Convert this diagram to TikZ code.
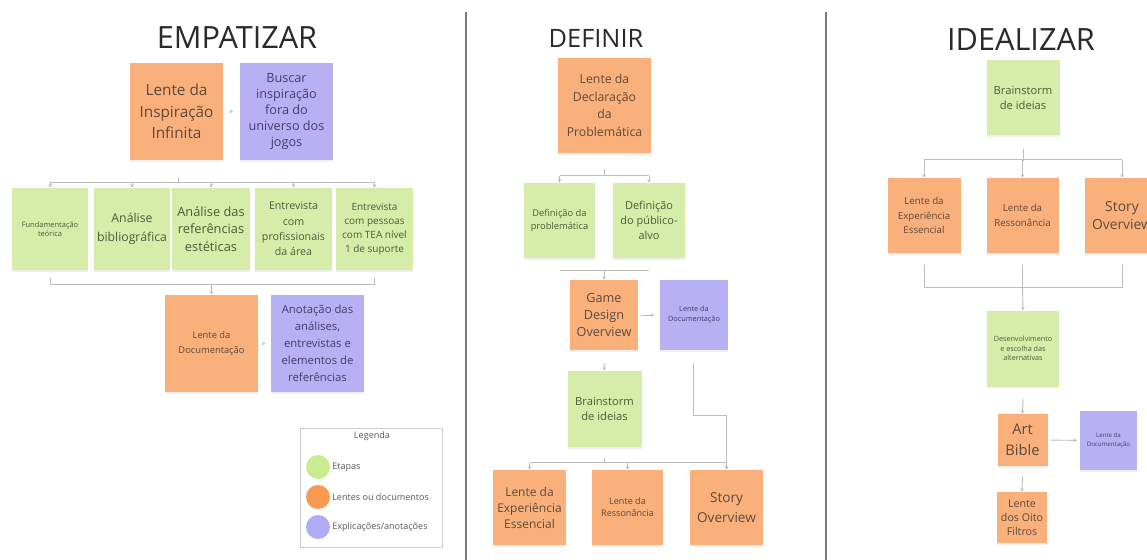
\documentclass[tikz,border=0pt]{standalone}
\usepackage{fontspec}
\setmainfont{Open Sans}
\usetikzlibrary{arrows.meta,shadows,calc}
\definecolor{orF}{HTML}{F9B07B}
\definecolor{grF}{HTML}{D5EDA8}
\definecolor{puF}{HTML}{B7B1F3}
\definecolor{orT}{HTML}{5E4A3C}
\definecolor{grT}{HTML}{4E5B3C}
\definecolor{puT}{HTML}{433E6E}
\definecolor{lnC}{HTML}{BDBDBD}
\definecolor{dvC}{HTML}{7A7A7A}
\definecolor{lgG}{HTML}{C8EC90}
\definecolor{lgO}{HTML}{F89A52}
\definecolor{lgP}{HTML}{B1ABF6}
\definecolor{ttC}{HTML}{2A2A2A}
\tikzset{
  box/.style={inner sep=1pt, align=center, drop shadow={opacity=0.12, shadow xshift=0.3pt, shadow yshift=-1.2pt}},
  lensbox/.style={box, fill=orF, text=orT},
  stagebox/.style={box, fill=grF, text=grT},
  notebox/.style={box, fill=puF, text=puT},
  sz/.style 2 args={minimum width=#1*0.75pt, minimum height=#2*0.75pt},
  fs/.style 2 args={font=\fontsize{#1}{#2}\selectfont},
  title/.style={font=\fontsize{23}{26}\selectfont, text=ttC},
  conn/.style={draw=lnC, line width=0.7pt},
  arr/.style={conn, -{Stealth[length=2.6pt,width=2.6pt]}},
  divider/.style={draw=dvC, line width=1pt},
  legtext/.style={font=\fontsize{6.8}{8}\selectfont, text=black!65, anchor=west, inner sep=0pt},
  legdot/.style={circle, minimum size=18pt, inner sep=0pt}
}
\begin{document}
\begin{tikzpicture}[x=0.75pt,y=-0.75pt]
\path[use as bounding box] (0,0) rectangle (1147,560);
\clip (0,0) rectangle (1147,560);
\fill[white] (0,0) rectangle (1147,560);

% titles
\node[title] (t1) at (237,38) {EMPATIZAR};
\node[title, font=\fontsize{19}{22}\selectfont] (t2) at (596,38) {DEFINIR};
\node[title] (t3) at (1021,40) {IDEALIZAR};

% dividers
\draw[divider] (466,12) -- (466,560);
\draw[divider] (826,12) -- (826,560);

% ---------- EMPATIZAR ----------
\node[lensbox, sz={93}{97}, fs={11.5}{16}] (insp) at (176.5,111.5) {Lente da\\Inspiração\\Infinita};
\node[notebox, sz={93}{97}, fs={9.5}{12}] (busc) at (286.5,111.5) {Buscar\\inspiração\\fora do\\universo dos\\jogos};
\draw[arr, shorten <=5pt, shorten >=5pt] (insp) -- (busc);

\node[stagebox, sz={76}{82}, fs={5.6}{7}] (g1) at (50,229) {Fundamentação\\teórica};
\node[stagebox, sz={76}{82}, fs={9.2}{14}] (g2) at (132,229) {Análise\\bibliográfica};
\node[stagebox, sz={78}{82}, fs={9.6}{13}] (g3) at (211,229) {Análise das\\referências\\estéticas};
\node[stagebox, sz={77}{82}, fs={8}{11.5}] (g4) at (293.5,229) {Entrevista\\com\\profissionais\\da área};
\node[stagebox, sz={77}{82}, fs={7.5}{10.7}] (g5) at (374.5,229) {Entrevista\\com pessoas\\com TEA nível\\1 de suporte};

\draw[conn] ($(insp.south)+(2,17)$) -- ($(insp.south)+(2,23)$);
\draw[conn] ($(g1.north)+(0,-5)$) -- ($(g5.north)+(0,-5)$);
\foreach \n in {g1,g2,g3,g4,g5} \draw[arr] ($(\n.north)+(0,-5)$) -- (\n.north);

\node[lensbox, sz={93}{97}, fs={7}{11}] (doc) at (211.5,343.5) {Lente da\\Documentação};
\node[notebox, sz={93}{97}, fs={8.5}{12.75}] (anot) at (317.5,343.5) {Anotação das\\análises,\\entrevistas e\\elementos de\\referências};
\draw[conn] ($(g1.south)+(0,8)$) -- ($(g1.south)+(0,14)$) -- ($(g5.south)+(0,14)$) -- ($(g5.south)+(0,8)$);
\draw[arr] ($(doc.north)+(0,-11)$) -- (doc.north);
\draw[arr, shorten <=4pt, shorten >=4pt] (doc) -- (anot);

% legend
\node[draw=black!20, line width=0.5pt, sz={142}{119}] (leg) at (371,487.5) {};
\node[font=\fontsize{6.8}{8}\selectfont, text=black!65] (legT) at (372,436) {Legenda};
\node[legdot, fill=lgG] (c1) at (318,467) {};
\node[legdot, fill=lgO] (c2) at (318,497) {};
\node[legdot, fill=lgP] (c3) at (318,527) {};
\node[legtext] (l1) at (332,467) {Etapas};
\node[legtext] (l2) at (332,497) {Lentes ou documentos};
\node[legtext] (l3) at (332,527) {Explicações/anotações};

% ---------- DEFINIR ----------
\node[lensbox, sz={93}{95}, fs={9.2}{13.3}] (decl) at (604.5,105.5) {Lente da\\Declaração\\da\\Problemática};
\node[stagebox, sz={71}{75}, fs={7}{9.5}] (def1) at (559.5,220.5) {Definição da\\problemática};
\node[stagebox, sz={72}{75}, fs={8.2}{11.5}] (def2) at (649,220.5) {Definição\\do público-\\alvo};
\draw[conn] ($(decl.south)+(0,16)$) -- ($(decl.south)+(0,23)$);
\draw[conn] ($(def1.north)+(0,-7)$) -- ($(def2.north)+(0,-7)$);
\foreach \n in {def1,def2} \draw[arr] ($(\n.north)+(0,-7)$) -- (\n.north);

\node[lensbox, sz={68}{70}, fs={9.5}{12.75}] (gdo) at (604,315) {Game\\Design\\Overview};
\node[notebox, sz={68}{70}, fs={5.5}{7.5}] (mdoc) at (694,315) {Lente da\\Documentação};
\draw[conn] ($(def1.south)+(0,12)$) -- ($(def2.south)+(0,12)$);
\draw[arr] ($(gdo.north)+(0,-10)$) -- (gdo.north);
\draw[arr, shorten <=2pt, shorten >=4pt] (gdo) -- (mdoc);

\node[stagebox, sz={74}{76}, fs={8.4}{11.5}] (mb) at (604.5,409) {Brainstorm\\de ideias};
\draw[arr] ($(gdo.south)+(0,13)$) -- (mb.north);

\node[lensbox, sz={73}{75}, fs={9}{12}] (e1) at (529.5,507.5) {Lente da\\Experiência\\Essencial};
\node[lensbox, sz={71}{75}, fs={6.8}{9}] (r1) at (627.5,507.5) {Lente da\\Ressonância};
\node[lensbox, sz={73}{75}, fs={10.2}{15}] (s1) at (726.5,507.5) {Story\\Overview};
\draw[conn] ($(mb.south)+(0,11)$) -- ($(mb.south)+(0,16)$);
\draw[conn] ($(e1.north)+(0,-7)$) -- ($(s1.north)+(0,-7)$);
\foreach \n in {e1,r1,s1} \draw[arr] ($(\n.north)+(0,-7)$) -- (\n.north);
\draw[arr] ($(mdoc.south)+(-1,13)$) -- ++(0,52) -| (s1.north);

% ---------- IDEALIZAR ----------
\node[stagebox, sz={73}{75}, fs={8.4}{11.5}] (rb) at (1023,98) {Brainstorm\\de ideias};
\node[lensbox, sz={73}{75}, fs={7.3}{11}] (e2) at (924,215.5) {Lente da\\Experiência\\Essencial};
\node[lensbox, sz={72}{75}, fs={7.3}{11}] (r2) at (1022.5,215.5) {Lente da\\Ressonância};
\node[lensbox, sz={74}{75}, fs={10.4}{14}] (s2) at (1122,215.5) {Story\\Overview};
\draw[conn] ($(rb.south)+(0,13)$) -- ($(rb.south)+(0,25)$);
\draw[conn] ($(e2.north)+(0,-18)$) -- ($(s2.north)+(0,-18)$);
\foreach \n in {e2,r2,s2} \draw[arr] ($(\n.north)+(0,-18)$) -- (\n.north);

\node[stagebox, sz={72}{76}, fs={5.4}{7.3}] (dv) at (1023,348.5) {Desenvolvimento\\e escolha das\\alternativas};
\draw[conn] ($(e2.south)+(0,12)$) -- ($(e2.south)+(0,34)$) -- ($(s2.south)+(0,34)$) -- ($(s2.south)+(0,12)$);
\draw[conn] ($(r2.south)+(0,12)$) -- ($(r2.south)+(0,34)$);
\draw[arr] ($(r2.south)+(0,34)$) -- (dv.north);

\node[lensbox, sz={50}{52}, fs={11}{16}] (ab) at (1022.5,440) {Art\\Bible};
\node[notebox, sz={57}{59}, fs={4.6}{6.2}] (rd) at (1108.5,440.5) {Lente da\\Documentação};
\node[lensbox, sz={50}{51}, fs={8}{10.6}] (lo) at (1022,517.5) {Lente\\dos Oito\\Filtros};
\draw[arr] ($(dv.south)+(0,12)$) -- (ab.north);
\draw[arr, shorten <=2pt, shorten >=2pt] (ab) -- (rd);
\draw[arr] ($(ab.south)+(0,10)$) -- (lo.north);
\end{tikzpicture}
\end{document}
